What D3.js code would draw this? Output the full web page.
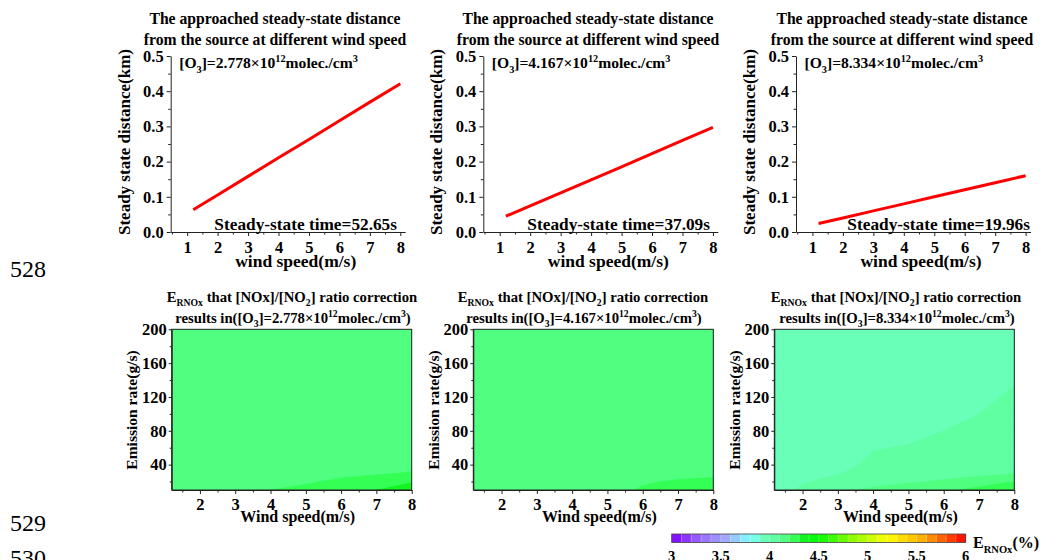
<!DOCTYPE html>
<html><head><meta charset="utf-8">
<script src="https://cdn.jsdelivr.net/npm/d3@7"></script>
<style>
body{margin:0;background:#fff}
svg{display:block}
text{font-family:"Liberation Serif","Times New Roman",serif;font-weight:bold;fill:#000}
text.ln{font-weight:normal}
</style>
</head><body><svg id="c" width="1052" height="560"></svg>
<script>
// ---------- data ----------
const windSpeed = [1.2, 2, 3, 4, 5, 6, 7, 8];
const distA = [0.063, 0.105, 0.158, 0.211, 0.263, 0.316, 0.369, 0.421];
const distB = [0.045, 0.074, 0.111, 0.148, 0.185, 0.223, 0.260, 0.297];
const distC = [0.024, 0.040, 0.060, 0.080, 0.100, 0.120, 0.140, 0.160];
const o3Labels = ["2.778", "4.167", "8.334"];
const steadyTimes = ["52.65", "37.09", "19.96"];
const topXTicks = [1, 2, 3, 4, 5, 6, 7, 8];
const topXMinor = [0.5, 1.5, 2.5, 3.5, 4.5, 5.5, 6.5, 7.5];
const topYTicks = [0, 0.1, 0.2, 0.3, 0.4, 0.5];
const topYMinor = [0.05, 0.15, 0.25, 0.35, 0.45];

const gridX = [1.2, 2, 3, 4, 5, 6, 7, 8];
const gridY = [10, 20, 30, 40, 60, 80, 100, 120, 160, 200];
const eA = [
  [4.15, 4.16, 4.18, 4.20, 4.22, 4.27, 4.30, 4.36],
  [4.15, 4.15, 4.16, 4.17, 4.19, 4.215, 4.24, 4.29],
  [4.15, 4.15, 4.15, 4.16, 4.165, 4.18, 4.19, 4.205],
  [4.15, 4.15, 4.15, 4.15, 4.155, 4.16, 4.17, 4.18],
  [4.15, 4.15, 4.15, 4.15, 4.15, 4.15, 4.15, 4.15],
  [4.15, 4.15, 4.15, 4.15, 4.15, 4.15, 4.15, 4.15],
  [4.15, 4.15, 4.15, 4.15, 4.15, 4.15, 4.15, 4.15],
  [4.15, 4.15, 4.15, 4.15, 4.15, 4.15, 4.15, 4.15],
  [4.15, 4.15, 4.15, 4.15, 4.15, 4.15, 4.15, 4.15],
  [4.15, 4.15, 4.15, 4.15, 4.15, 4.15, 4.15, 4.15]
];
const eB = [
  [4.15, 4.15, 4.15, 4.16, 4.17, 4.21, 4.24, 4.26],
  [4.15, 4.15, 4.15, 4.15, 4.16, 4.19, 4.21, 4.22],
  [4.15, 4.15, 4.15, 4.15, 4.155, 4.17, 4.17, 4.18],
  [4.15, 4.15, 4.15, 4.15, 4.15, 4.155, 4.16, 4.165],
  [4.15, 4.15, 4.15, 4.15, 4.15, 4.15, 4.15, 4.15],
  [4.15, 4.15, 4.15, 4.15, 4.15, 4.15, 4.15, 4.15],
  [4.15, 4.15, 4.15, 4.15, 4.15, 4.15, 4.15, 4.15],
  [4.15, 4.15, 4.15, 4.15, 4.15, 4.15, 4.15, 4.15],
  [4.15, 4.15, 4.15, 4.15, 4.15, 4.15, 4.15, 4.15],
  [4.15, 4.15, 4.15, 4.15, 4.15, 4.15, 4.15, 4.15]
];
const eC = [
  [3.95, 4.02, 4.08, 4.12, 4.15, 4.18, 4.23, 4.28],
  [3.94, 3.99, 4.03, 4.06, 4.09, 4.11, 4.15, 4.20],
  [3.93, 3.96, 3.995, 4.03, 4.05, 4.07, 4.07, 4.09],
  [3.92, 3.94, 3.97, 4.02, 4.04, 4.05, 4.06, 4.07],
  [3.92, 3.93, 3.95, 3.995, 4.005, 4.03, 4.04, 4.05],
  [3.93, 3.93, 3.94, 3.96, 3.98, 4.00, 4.025, 4.04],
  [3.94, 3.94, 3.94, 3.95, 3.96, 3.98, 4.00, 4.02],
  [3.95, 3.95, 3.95, 3.95, 3.95, 3.96, 3.985, 4.01],
  [3.95, 3.95, 3.95, 3.95, 3.95, 3.95, 3.96, 3.98],
  [3.95, 3.95, 3.95, 3.95, 3.95, 3.95, 3.95, 3.95]
];
const botXTicks = [2, 3, 4, 5, 6, 7, 8];
const botXMinor = [1.5, 2.5, 3.5, 4.5, 5.5, 6.5, 7.5];
const botYTicks = [40, 80, 120, 160, 200];
const botYMinor = [20, 60, 100, 140, 180];
const cbTicks = [3, 3.5, 4, 4.5, 5, 5.5, 6];
const cbStopVals = [3.0, 3.3, 3.55, 3.8, 3.95, 4.05, 4.15, 4.25, 4.35, 4.5, 4.85, 5.2, 5.55, 6.0];
const cbStopCols = ["#8000ff", "#9a6aff", "#a0a8ff", "#80ffff", "#6affb8", "#5fffa2", "#50ff80", "#33ff55",
                    "#12f520", "#00ff00", "#90ff00", "#ffff00", "#ffb000", "#ff0000"];
const lineNumbers = ["528", "529", "530"];

// ---------- helpers ----------
const svg = d3.select("#c");
const color = d3.scaleLinear().domain(cbStopVals).range(cbStopCols).interpolate(d3.interpolateRgb);
const levels = d3.range(30).map(i => Math.round((3 + i * 0.1) * 10) / 10);

function rich(g, x, y, parts, size, anchor) {
  const t = g.append("text").attr("x", x).attr("y", y).attr("font-size", size)
    .attr("text-anchor", anchor || "start");
  let shift = 0;
  parts.forEach(([s, m]) => {
    const target = m === "sub" ? size * 0.3 : m === "sup" ? -size * 0.4 : 0;
    t.append("tspan").attr("dy", target - shift)
      .attr("font-size", m === "n" ? size : size * 0.66).text(s);
    shift = target;
  });
  return t;
}
function styleAxis(g, fs) {
  g.selectAll("path.domain").attr("stroke", "#222").attr("stroke-width", 1);
  g.selectAll(".tick line").attr("stroke", "#222");
  g.selectAll("text").attr("font-size", fs).attr("font-family", null).attr("fill", "#000");
}

// ---------- top panels ----------
const topLefts = [170.7, 483.3, 796];
const dists = [distA, distB, distC];
const titleCenters = [275, 588, 902];
const stEnds = [397, 710, 1030];
topLefts.forEach((L, i) => {
  const g = svg.append("g");
  const x = d3.scaleLinear().domain([0.46, 8.16]).range([L, L + 234.5]);
  const y = d3.scaleLinear().domain([0, 0.5]).range([232, 56]);

  const xa = g.append("g").attr("transform", "translate(0,232)")
    .call(d3.axisBottom(x).tickValues(topXTicks).tickSize(4).tickSizeOuter(0).tickPadding(5).tickFormat(d3.format("d")));
  styleAxis(xa, 16.5);
  const xm = g.append("g").attr("transform", "translate(0,232)")
    .call(d3.axisBottom(x).tickValues(topXMinor).tickSize(2.5).tickFormat(""));
  xm.select("path.domain").remove(); xm.selectAll("line").attr("stroke", "#222");

  const ya = g.append("g").attr("transform", `translate(${L},0)`)
    .call(d3.axisLeft(y).tickValues(topYTicks).tickSize(4).tickSizeOuter(0).tickPadding(3).tickFormat(d3.format(".1f")));
  styleAxis(ya, 16.5);
  const ym = g.append("g").attr("transform", `translate(${L},0)`)
    .call(d3.axisLeft(y).tickValues(topYMinor).tickSize(2.5).tickFormat(""));
  ym.select("path.domain").remove(); ym.selectAll("line").attr("stroke", "#222");

  g.append("path").datum(windSpeed.map((w, k) => [w, dists[i][k]]))
    .attr("d", d3.line().x(d => x(d[0])).y(d => y(d[1])))
    .attr("fill", "none").attr("stroke", "#ff0000").attr("stroke-width", 3);

  g.append("text").attr("x", titleCenters[i]).attr("y", 24).attr("font-size", 15.7).attr("text-anchor", "middle")
    .text("The approached steady-state distance");
  g.append("text").attr("x", titleCenters[i]).attr("y", 45).attr("font-size", 15.7).attr("text-anchor", "middle")
    .text("from the source at different wind speed");

  rich(g, L + 8.5, 68, [["[O", "n"], ["3", "sub"], ["]=" + o3Labels[i] + "\u00d710", "n"], ["12", "sup"],
    ["molec./cm", "n"], ["3", "sup"]], 15.6);

  g.append("text").attr("x", stEnds[i]).attr("y", 230).attr("font-size", 17.3).attr("text-anchor", "end")
    .text("Steady-state time=" + steadyTimes[i] + "s");

  g.append("text").attr("x", L + 125).attr("y", 267).attr("font-size", 17.5).attr("text-anchor", "middle")
    .text("wind speed(m/s)");
  g.append("text").attr("transform", `translate(${L - 41},142) rotate(-90)`).attr("font-size", 17)
    .attr("text-anchor", "middle").text("Steady state distance(km)");
});

// ---------- bottom panels ----------
const botLefts = [171.7, 473.3, 774.3];
const grids = [eA, eB, eC];
const botTitleCenters = [292, 583, 896];
const nx = gridX.length, ny = gridY.length;
function interpIdx(arr, c) {
  const i = c - 0.5;
  if (i <= 0) return arr[0];
  if (i >= arr.length - 1) return arr[arr.length - 1];
  const k = Math.floor(i);
  return arr[k] + (arr[k + 1] - arr[k]) * (i - k);
}
botLefts.forEach((L, i) => {
  const g = svg.append("g");
  const W = 240, T = 329.3, B = 490;
  const x = d3.scaleLinear().domain([1.2, 8]).range([L, L + W]);
  const y = d3.scaleLinear().domain([10, 200]).range([B, T]);
  const cid = "clip" + i;
  g.append("clipPath").attr("id", cid).append("rect").attr("x", L).attr("y", T).attr("width", W).attr("height", B - T);

  const flat = [];
  grids[i].forEach(row => row.forEach(v => flat.push(v)));
  const cons = d3.contours().size([nx, ny]).thresholds(levels)(flat);
  const path = d3.geoPath(d3.geoTransform({
    point: function (px, py) { this.stream.point(x(interpIdx(gridX, px)), y(interpIdx(gridY, py))); }
  }));
  g.append("g").attr("clip-path", `url(#${cid})`).selectAll("path")
    .data(cons.filter(c => c.coordinates.length)).join("path")
    .attr("d", path).attr("fill", c => color(c.value + 0.05))
    .attr("stroke", c => color(c.value + 0.05)).attr("stroke-width", 0.4);

  g.append("rect").attr("x", L).attr("y", T).attr("width", W).attr("height", B - T)
    .attr("fill", "none").attr("stroke", "#222").attr("stroke-width", 1);

  const xa = g.append("g").attr("transform", `translate(0,${B})`)
    .call(d3.axisBottom(x).tickValues(botXTicks).tickSize(4).tickSizeOuter(0).tickPadding(4.5).tickFormat(d3.format("d")));
  styleAxis(xa, 16.5);
  const xm = g.append("g").attr("transform", `translate(0,${B})`)
    .call(d3.axisBottom(x).tickValues(botXMinor).tickSize(2.5).tickFormat(""));
  xm.select("path.domain").remove(); xm.selectAll("line").attr("stroke", "#222");

  const ya = g.append("g").attr("transform", `translate(${L},0)`)
    .call(d3.axisLeft(y).tickValues(botYTicks).tickSize(3).tickSizeOuter(0).tickPadding(2).tickFormat(d3.format("d")));
  styleAxis(ya, 16.5);
  const ym = g.append("g").attr("transform", `translate(${L},0)`)
    .call(d3.axisLeft(y).tickValues(botYMinor).tickSize(2).tickFormat(""));
  ym.select("path.domain").remove(); ym.selectAll("line").attr("stroke", "#222");

  rich(g, botTitleCenters[i], 301.5, [["E", "n"], ["RNOx", "sub"], [" that [NOx]/[NO", "n"], ["2", "sub"],
    ["] ratio correction", "n"]], 14.7, "middle");
  rich(g, botTitleCenters[i] + 1, 323, [["results in([O", "n"], ["3", "sub"], ["]=" + o3Labels[i] + "\u00d710", "n"],
    ["12", "sup"], ["molec./cm", "n"], ["3", "sup"], [")", "n"]], 14.7, "middle");

  g.append("text").attr("x", L + W / 2 + 6).attr("y", 522).attr("font-size", 16).attr("text-anchor", "middle")
    .text("Wind speed(m/s)");
  g.append("text").attr("transform", `translate(${L - 34.5},410) rotate(-90)`).attr("font-size", 15.5)
    .attr("text-anchor", "middle").text("Emission rate(g/s)");
});

// ---------- colorbar ----------
const cb = d3.scaleLinear().domain([3, 6]).range([671.7, 965.7]);
const cbg = svg.append("g");
cbg.selectAll("rect.band").data(levels).join("rect").attr("class", "band")
  .attr("x", d => cb(d)).attr("y", 534).attr("width", d => cb(d + 0.1) - cb(d) + 0.3).attr("height", 8.5)
  .attr("fill", d => color(d + 0.05));
cbg.selectAll("line.sep").data(levels.slice(1)).join("line").attr("class", "sep")
  .attr("x1", d => cb(d)).attr("x2", d => cb(d)).attr("y1", 534).attr("y2", 542.5)
  .attr("stroke", "#fff").attr("stroke-opacity", 0.35).attr("stroke-width", 0.8);
cbg.append("rect").attr("x", 671.7).attr("y", 534).attr("width", 294).attr("height", 8.5)
  .attr("fill", "none").attr("stroke", "#444").attr("stroke-width", 0.8);
cbg.selectAll("text.cbt").data(cbTicks).join("text").attr("class", "cbt")
  .attr("x", d => cb(d)).attr("y", 561).attr("font-size", 14.5).attr("text-anchor", "middle").text(d => d);
rich(cbg, 973, 548, [["E", "n"], ["RNOx", "sub"], ["(%)", "n"]], 16, "start");

// ---------- document line numbers ----------
const lnY = [277, 531, 566];
svg.selectAll("text.ln").data(lineNumbers).join("text").attr("class", "ln")
  .attr("x", 10).attr("y", (d, k) => lnY[k]).attr("font-size", 24)
  .attr("fill", "#222").text(d => d);
</script>
</body></html>
